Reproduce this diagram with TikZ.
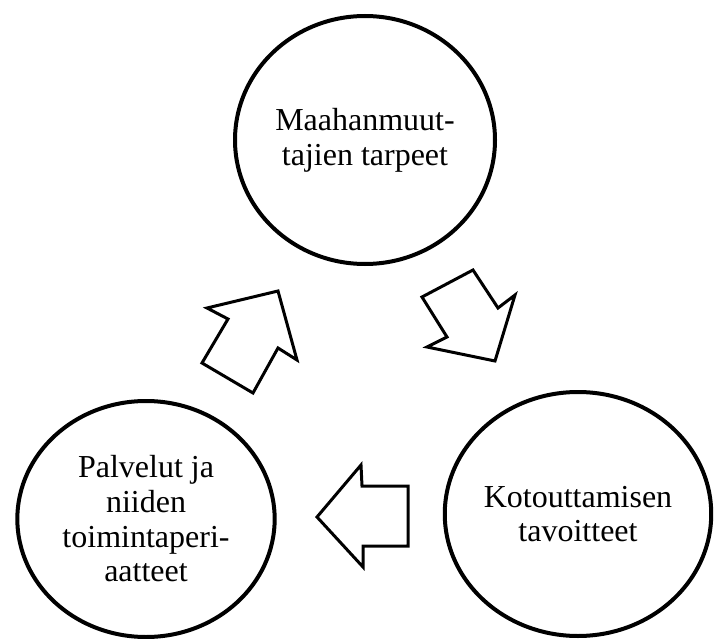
\documentclass[tikz,border=0pt]{standalone}
\usepackage{fontspec}
\setmainfont{Liberation Serif}
\usetikzlibrary{shapes.geometric}

\begin{document}
\begin{tikzpicture}[x=0.75pt,y=-0.75pt,
	topic/.style={ellipse,draw,line width=3pt,inner sep=0pt,align=center,
		font=\fontsize{24}{26}\selectfont},
	blockarrow/.style={draw,line width=2.25pt,line join=miter}]
	\useasboundingbox (0,0) rectangle (715,639);
	
	% draw circles
	\node[topic,minimum width=195pt,minimum height=186pt] (needs) at (365,140) {Maahanmuut-\\tajien tarpeet};
	\node[topic,minimum width=198pt,minimum height=183pt] (goals) at (578,514) {Kotouttamisen\\tavoitteet};
	\node[topic,minimum width=193pt,minimum height=177pt] (services) at (146,519) {Palvelut ja\\niiden\\toimintaperi-\\aatteet};
	
	% draw arrows
	\draw[blockarrow] (473,270) -- (422,297) -- (447,337) -- (427,347) -- (495,361) -- (515,295) -- (498,308) -- cycle;
	\draw[blockarrow] (317,517) -- (361,465) -- (362,486) -- (408,486) -- (408,546) -- (363,546) -- (363,567) -- cycle;
	\draw[blockarrow] (278,291) -- (207,308) -- (228,319) -- (202,363) -- (253,393) -- (278,348) -- (297,360) -- cycle;
	
\end{tikzpicture}
\end{document}
